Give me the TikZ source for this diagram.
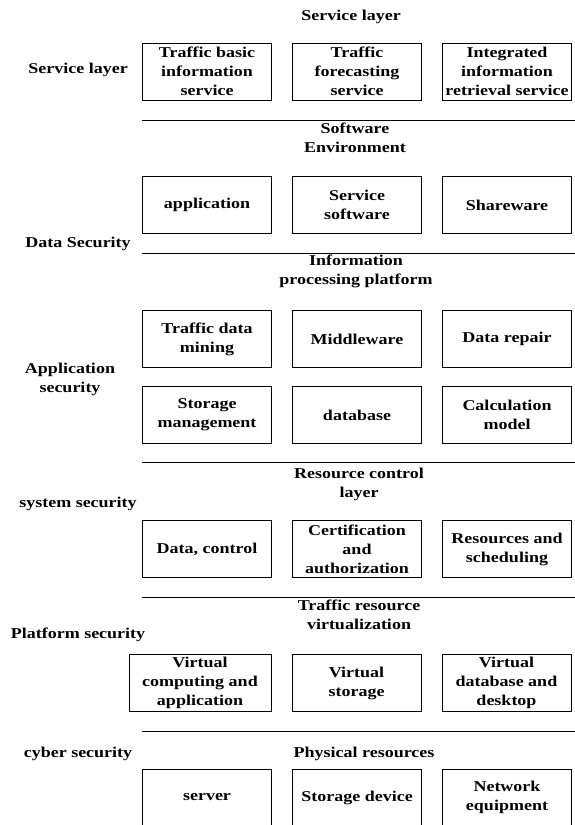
\documentclass[tikz,border=0pt]{standalone}
\usepackage{fontspec}
\setmainfont{Liberation Serif}[FakeStretch=1.2]
\usetikzlibrary{positioning}

\begin{document}
\begin{tikzpicture}[x=1pt,y=-1pt,node distance=20pt,
  every node/.style={font=\bfseries\fontsize{15}{19}\selectfont,align=center,inner sep=1pt},
  box/.style={draw,line width=1pt,minimum width=129pt,minimum height=57pt}]
\useasboundingbox (0,0) rectangle (575,825);

\node (sl) at (78,70) {Service layer};
\node (ds) at (78,244) {Data Security};
\node (as) at (70,379) {Application\\security};
\node (ss) at (78,504) {system security};
\node (ps) at (78,635) {Platform security};
\node (cs) at (78,754) {cyber security};

\node (t1) at (351,17) {Service layer};
\node (t2) at (355,138) {Software\\Environment};
\node (t3) at (356,271) {Information\\processing platform};
\node (t4) at (359,484) {Resource control\\layer};
\node (t5) at (359,615) {Traffic resource\\virtualization};
\node (t6) at (364,754) {Physical resources};

\foreach \y in {120,253,462,597,731}
  \draw[line width=1pt] (142,\y) -- (575,\y);

\node[box] (tb) at (207,71.5) {Traffic basic\\information\\service};
\node[box,right=of tb] (tf) {Traffic\\forecasting\\service};
\node[box,right=of tf] (ir) {Integrated\\information\\retrieval service};

\node[box] (ap) at (207,205) {application};
\node[box,right=of ap] (sw) {Service\\software};
\node[box,right=of sw] (sh) {Shareware};

\node[box] (dm) at (207,339) {Traffic data\\mining};
\node[box,right=of dm] (mw) {Middleware};
\node[box,right=of mw] (dr) {Data repair};

\node[box] (sm) at (207,415) {Storage\\management};
\node[box,right=of sm] (db) {database};
\node[box,right=of db] (cm) {Calculation\\model};

\node[box] (dc) at (207,549) {Data, control};
\node[box,right=of dc] (ca) {Certification\\and\\authorization};
\node[box,right=of ca] (rs) {Resources and\\scheduling};

\node[box,minimum width=142pt] (vc) at (200,683) {Virtual\\computing and\\application};
\node[box,right=of vc] (vs) {Virtual\\storage};
\node[box,right=of vs] (vd) {Virtual\\database and\\desktop};

\node[box] (sv) at (207,797.5) {server};
\node[box,right=of sv] (sd) {Storage device};
\node[box,right=of sd] (ne) {Network\\equipment};
\end{tikzpicture}
\end{document}
